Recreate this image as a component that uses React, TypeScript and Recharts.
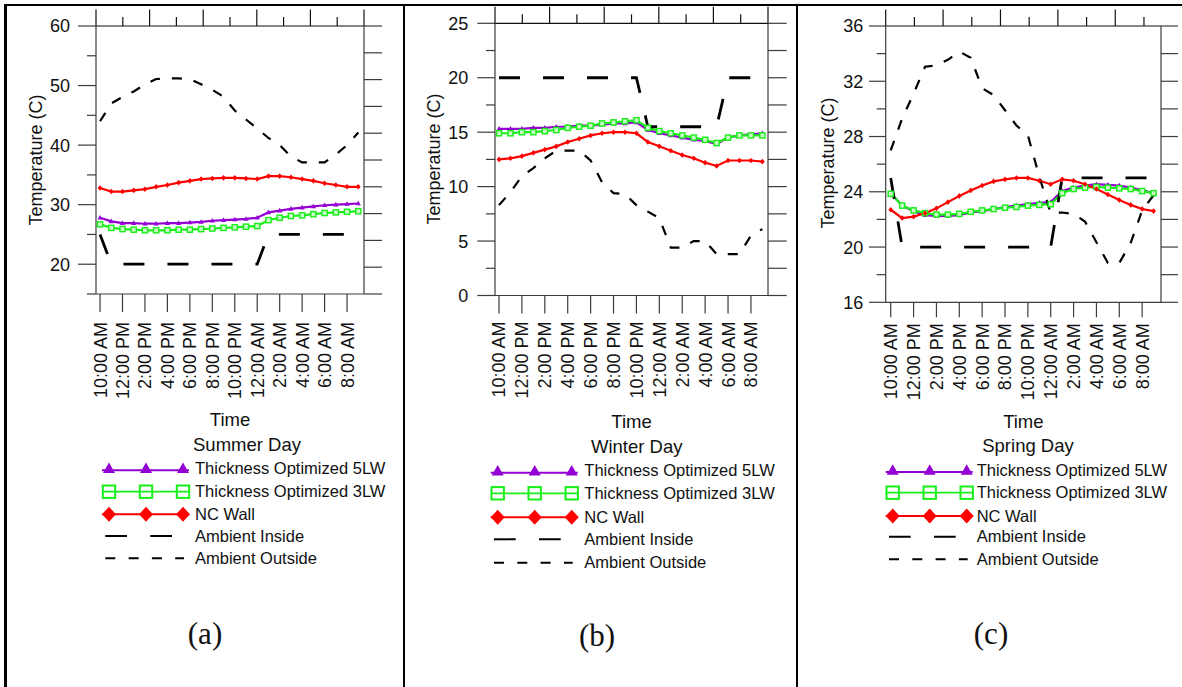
import React from 'react';
import { LineChart, Line, XAxis, YAxis, Legend } from 'recharts';

const FONT = '"Liberation Sans", Arial, sans-serif';
const SERIF = '"Liberation Serif", "Times New Roman", serif';
const AXIS = '#3c3c3c';
const PURPLE = '#9400d3';
const GREEN = '#18ee18';
const RED = '#ff0000';

// hourly samples, 10:00 AM .. 9:00 AM
const hours = [0, 1, 2, 3, 4, 5, 6, 7, 8, 9, 10, 11, 12, 13, 14, 15, 16, 17, 18, 19, 20, 21, 22, 23];
const timeTicks = [0, 2, 4, 6, 8, 10, 12, 14, 16, 18, 20, 22];
const timeLabels = [
  '10:00 AM', '12:00 PM', '2:00 PM', '4:00 PM', '6:00 PM', '8:00 PM',
  '10:00 PM', '12:00 AM', '2:00 AM', '4:00 AM', '6:00 AM', '8:00 AM',
];
const seriesNames = [
  'Thickness Optimized 5LW',
  'Thickness Optimized 3LW',
  'NC Wall',
  'Ambient Inside',
  'Ambient Outside',
];

// Summer day
const summer5LW = [27.8, 27.2, 26.9, 26.9, 26.8, 26.8, 26.9, 26.9, 27.0, 27.1, 27.3, 27.4, 27.5, 27.6, 27.8, 28.7, 29.0, 29.3, 29.5, 29.7, 29.9, 30.0, 30.1, 30.2];
const summer3LW = [26.7, 26.1, 25.9, 25.8, 25.7, 25.7, 25.7, 25.8, 25.8, 25.9, 26.0, 26.1, 26.2, 26.3, 26.4, 27.4, 27.8, 28.1, 28.2, 28.4, 28.6, 28.7, 28.8, 28.9];
const summerNC = [32.8, 32.2, 32.2, 32.4, 32.6, 33.0, 33.3, 33.7, 34.0, 34.3, 34.4, 34.5, 34.5, 34.4, 34.3, 34.8, 34.8, 34.6, 34.3, 34.0, 33.6, 33.3, 33.0, 33.0];
const summerInside = [25, 20, 20, 20, 20, 20, 20, 20, 20, 20, 20, 20, 20, 20, 20, 25, 25, 25, 25, 25, 25, 25, 25, 25];
const summerOutside = [44.0, 47.0, 48.1, 49.0, 50.2, 51.1, 51.2, 51.2, 51.1, 50.2, 49.3, 48.1, 45.8, 44.3, 42.8, 41.2, 40.0, 38.1, 37.1, 37.1, 37.1, 38.4, 40.0, 42.1];

// Winter day
const winter5LW = [15.3, 15.3, 15.3, 15.4, 15.4, 15.5, 15.5, 15.6, 15.6, 15.7, 15.8, 15.8, 15.9, 15.2, 14.9, 14.7, 14.5, 14.3, 14.2, 13.9, 14.5, 14.7, 14.8, 14.9];
const winter3LW = [14.9, 14.9, 15.0, 15.0, 15.1, 15.2, 15.4, 15.5, 15.6, 15.8, 15.9, 16.0, 16.1, 15.4, 15.1, 14.9, 14.7, 14.5, 14.3, 14.0, 14.5, 14.7, 14.7, 14.7];
const winterNC = [12.5, 12.6, 12.8, 13.1, 13.4, 13.7, 14.1, 14.4, 14.7, 14.9, 15.0, 15.0, 14.9, 14.1, 13.7, 13.3, 12.9, 12.6, 12.2, 11.9, 12.4, 12.4, 12.4, 12.3];
const winterInside = [20, 20, 20, 20, 20, 20, 20, 20, 20, 20, 20, 20, 20, 15.5, 15.5, 15.5, 15.5, 15.5, 15.5, 15.5, 20, 20, 20, 20];
const winterOutside = [8.3, 9.5, 10.95, 11.7, 12.6, 13.3, 13.3, 13.3, 12.4, 10.4, 9.4, 9.3, 8.3, 7.7, 7.1, 4.4, 4.4, 5.0, 5.0, 3.8, 3.8, 3.8, 5.5, 6.1];

// Spring day
const spring5LW = [23.9, 23.0, 22.6, 22.3, 22.25, 22.25, 22.3, 22.5, 22.6, 22.75, 22.9, 23.0, 23.1, 23.2, 23.25, 24.05, 24.3, 24.45, 24.55, 24.5, 24.45, 24.3, 24.1, 23.9];
const spring3LW = [23.85, 23.0, 22.65, 22.45, 22.35, 22.35, 22.4, 22.55, 22.65, 22.75, 22.85, 22.9, 23.0, 23.05, 23.1, 23.9, 24.2, 24.3, 24.35, 24.3, 24.25, 24.2, 24.05, 23.9];
const springNC = [22.7, 22.1, 22.2, 22.45, 22.8, 23.25, 23.7, 24.1, 24.45, 24.75, 24.9, 25.0, 25.0, 24.8, 24.55, 24.9, 24.8, 24.55, 24.2, 23.8, 23.4, 23.05, 22.75, 22.6];
const springInside = [25, 20, 20, 20, 20, 20, 20, 20, 20, 20, 20, 20, 20, 20, 20, 25, 25, 25, 25, 25, 25, 25, 25, 25];
const springOutside = [27.0, 29.3, 31.1, 33.05, 33.15, 33.55, 34.15, 33.7, 31.5, 31.0, 29.9, 28.8, 28.1, 25.1, 22.45, 22.5, 22.4, 21.85, 20.35, 18.85, 18.85, 20.3, 22.65, 23.75];

// axis ticks
const summerTicks = [15, 20, 25, 30, 35, 40, 45, 50, 55, 60];
const summerLabels = [20, 30, 40, 50, 60];
const winterTicks = [0, 2.5, 5, 7.5, 10, 12.5, 15, 17.5, 20, 22.5, 25];
const winterLabels = [0, 5, 10, 15, 20, 25];
const springTicks = [16, 18, 20, 22, 24, 26, 28, 30, 32, 34, 36];
const springLabels = [16, 20, 24, 28, 32, 36];
const frameTicks = [0, 1, 2, 3, 4, 5, 6, 7, 8, 9, 10];

// evenly spaced frame ticks along the top edge, in hour units
const topFrame = (domain: [number, number], step: number, count: number) =>
  frameTicks.slice(0, count).map((k) => domain[0] + k * step);

type Row = { h: number; t5: number; t3: number; nc: number; inside: number; outside: number };

const buildRows = (t5: number[], t3: number[], nc: number[], inside: number[], outside: number[]): Row[] =>
  hours.map((h, i) => ({ h, t5: t5[i], t3: t3[i], nc: nc[i], inside: inside[i], outside: outside[i] }));

type Spec = {
  id: string;
  left: number;
  width: number;
  plot: { l: number; r: number; t: number; b: number };
  yDomain: [number, number];
  yTicks: number[];
  yLabels: number[];
  yMajorLen: number;
  yLabelGap: number;
  xDomain: [number, number];
  topTicks: number[];
  bottomLen: number;
  bottomGap: number;
  rightLen: number;
  yTitle: [number, number];
  timeBaseline: number;
  rows: Row[];
  legend: { x0: number; textX: number; rowsY: number[]; title: string; titleX: number; titleY: number };
  caption: { text: string; x: number; y: number };
};

const H = 687;

const summerX: [number, number] = [-0.36, 23.51];
const winterX: [number, number] = [-0.35, 23.49];
const springX: [number, number] = [-0.44, 23.65];

const panels: Spec[] = [
  {
    id: 'summer', left: 0, width: 400,
    plot: { l: 96, r: 364, t: 26, b: 294 },
    yDomain: [15, 60], yTicks: summerTicks, yLabels: summerLabels, yMajorLen: 18, yLabelGap: 26,
    xDomain: summerX, topTicks: topFrame(summerX, (summerX[1] - summerX[0]) / 10, 11),
    bottomLen: 18, bottomGap: 28, rightLen: 18,
    yTitle: [35.5, 160], timeBaseline: 426,
    rows: buildRows(summer5LW, summer3LW, summerNC, summerInside, summerOutside),
    legend: { x0: 102, textX: 195, rowsY: [468.3, 491.7, 514.3, 536, 558.3], title: 'Summer Day', titleX: 247, titleY: 450.7 },
    caption: { text: '(a)', x: 205, y: 644 },
  },
  {
    id: 'winter', left: 400, width: 397,
    plot: { l: 95, r: 368, t: 23.3, b: 295.5 },
    yDomain: [0, 25], yTicks: winterTicks, yLabels: winterLabels, yMajorLen: 17.7, yLabelGap: 26.7,
    xDomain: winterX, topTicks: topFrame(winterX, (winterX[1] - winterX[0]) / 10, 11),
    bottomLen: 18, bottomGap: 26, rightLen: 18.7,
    yTitle: [34, 159], timeBaseline: 428.3,
    rows: buildRows(winter5LW, winter3LW, winterNC, winterInside, winterOutside),
    legend: { x0: 90.7, textX: 184.3, rowsY: [470.7, 493.3, 517.3, 539.3, 562.7], title: 'Winter Day', titleX: 236.7, titleY: 452.7 },
    caption: { text: '(b)', x: 197, y: 646 },
  },
  {
    id: 'spring', left: 797, width: 385,
    plot: { l: 88.7, r: 364, t: 26, b: 302.3 },
    yDomain: [16, 36], yTicks: springTicks, yLabels: springLabels, yMajorLen: 16.7, yLabelGap: 22.4,
    xDomain: springX, topTicks: topFrame(springX, 2.511, 10),
    bottomLen: 15, bottomGap: 21, rightLen: 17,
    yTitle: [30.5, 163], timeBaseline: 427.7,
    rows: buildRows(spring5LW, spring3LW, springNC, springInside, springOutside),
    legend: { x0: 88.7, textX: 179.7, rowsY: [470, 492.7, 516, 536.7, 559.3], title: 'Spring Day', titleX: 231, titleY: 451.7 },
    caption: { text: '(c)', x: 194, y: 644 },
  },
];

// point markers
const TriangleDot = (p: any) => {
  const { cx, cy, index } = p;
  if (cx == null || cy == null) return <g key={`t-${index}`} />;
  return <path key={`t-${index}`} d={`M${cx},${cy - 2.8}L${cx + 2.6},${cy + 1.8}L${cx - 2.6},${cy + 1.8}Z`} fill={PURPLE} />;
};
const SquareDot = (p: any) => {
  const { cx, cy, index } = p;
  if (cx == null || cy == null) return <g key={`s-${index}`} />;
  return <rect key={`s-${index}`} x={cx - 2.6} y={cy - 2.6} width={5.2} height={5.2} fill="#c8f8c8" stroke={GREEN} strokeWidth={1.4} />;
};
const DiamondDot = (p: any) => {
  const { cx, cy, index } = p;
  if (cx == null || cy == null) return <g key={`d-${index}`} />;
  return <path key={`d-${index}`} d={`M${cx},${cy - 2.8}L${cx + 2.4},${cy}L${cx},${cy + 2.8}L${cx - 2.4},${cy}Z`} fill={RED} />;
};

const LeftTick = (props: any) => {
  const { x, y, payload, spec } = props;
  const v = payload.value;
  const major = spec.yLabels.includes(v);
  const len = major ? spec.yMajorLen : 9;
  return (
    <g>
      <line x1={x - len} x2={x} y1={y} y2={y} stroke={AXIS} strokeWidth={1.2} />
      {major && (
        <text x={x - spec.yLabelGap} y={y} dy="0.36em" textAnchor="end" fontSize={18} fill="#111">
          {v}
        </text>
      )}
    </g>
  );
};

const RightTick = (props: any) => {
  const { x, y, spec } = props;
  return <line x1={x} x2={x + spec.rightLen} y1={y} y2={y} stroke={AXIS} strokeWidth={1.2} />;
};

const TopTick = (props: any) => {
  const { x, y, index } = props;
  const len = index % 2 === 0 ? 16.5 : 9;
  return <line x1={x} x2={x} y1={y - len} y2={y} stroke="#111" strokeWidth={1.2} />;
};

const BottomTick = (props: any) => {
  const { x, y, payload, spec } = props;
  const label = timeLabels[timeTicks.indexOf(payload.value)];
  const ty = y + spec.bottomGap;
  return (
    <g>
      <line x1={x} x2={x} y1={y} y2={y + spec.bottomLen} stroke={AXIS} strokeWidth={1.2} />
      <text x={x} y={ty} dy="0.36em" textAnchor="end" fontSize={18} fill="#111" transform={`rotate(-90 ${x} ${ty})`}>
        {label}
      </text>
    </g>
  );
};

const LegendSymbol = ({ kind, x0, y }: { kind: number; x0: number; y: number }) => {
  const marks = [x0 + 7, x0 + 44, x0 + 81];
  if (kind === 0) {
    return (
      <g>
        <line x1={x0} x2={x0 + 87} y1={y + 2} y2={y + 2} stroke={PURPLE} strokeWidth={2} />
        {marks.map((m) => (
          <path key={m} d={`M${m},${y - 5.8}L${m + 6},${y + 4.8}L${m - 6},${y + 4.8}Z`} fill={PURPLE} />
        ))}
      </g>
    );
  }
  if (kind === 1) {
    return (
      <g>
        <line x1={x0} x2={x0 + 87} y1={y} y2={y} stroke={GREEN} strokeWidth={1.8} />
        {marks.map((m) => (
          <rect key={m} x={m - 6.2} y={y - 6.2} width={12.4} height={12.4} fill="none" stroke={GREEN} strokeWidth={2} />
        ))}
      </g>
    );
  }
  if (kind === 2) {
    return (
      <g>
        <line x1={x0} x2={x0 + 87} y1={y} y2={y} stroke={RED} strokeWidth={2} />
        {marks.map((m) => (
          <path key={m} d={`M${m},${y - 7.5}L${m + 7},${y}L${m},${y + 7.5}L${m - 7},${y}Z`} fill={RED} />
        ))}
      </g>
    );
  }
  if (kind === 3) {
    return <line x1={x0 + 3.3} x2={x0 + 70} y1={y} y2={y} stroke="#000" strokeWidth={2} strokeDasharray="21.7 23.3" />;
  }
  return <line x1={x0 + 3.3} x2={x0 + 82} y1={y} y2={y} stroke="#000" strokeWidth={2} strokeDasharray="10 13.3" />;
};

const LegendBlock = ({ spec }: { spec: Spec }) => {
  const lg = spec.legend;
  return (
    <svg width={spec.width} height={H} style={{ display: 'block', overflow: 'visible', fontFamily: FONT }}>
      <text x={lg.titleX} y={lg.titleY} textAnchor="middle" fontSize={18.5} fill="#111">
        {lg.title}
      </text>
      {seriesNames.map((name, i) => (
        <g key={name}>
          <LegendSymbol kind={i} x0={lg.x0} y={lg.rowsY[i]} />
          <text x={lg.textX} y={lg.rowsY[i]} dy="0.35em" fontSize={16.5} fill="#111">
            {name}
          </text>
        </g>
      ))}
      <text x={spec.caption.x} y={spec.caption.y} textAnchor="middle" fontSize={31} fill="#111" style={{ fontFamily: SERIF }}>
        {spec.caption.text}
      </text>
    </svg>
  );
};

const Panel = ({ spec }: { spec: Spec }) => {
  const { plot } = spec;
  const margin = {
    top: plot.t - 20,
    left: plot.l - 60,
    right: spec.width - plot.r - 20,
    bottom: H - plot.b - 200,
  };
  const timeX = (plot.l + plot.r) / 2;
  return (
    <div style={{ position: 'absolute', left: spec.left, top: 0, width: spec.width, height: H }}>
      <LineChart width={spec.width} height={H} data={spec.rows} margin={margin} style={{ fontFamily: FONT }}>
        <XAxis
          xAxisId="bottom"
          dataKey="h"
          type="number"
          domain={spec.xDomain}
          ticks={timeTicks}
          allowDataOverflow
          interval={0}
          height={200}
          tickSize={0}
          tickMargin={0}
          tickLine={false}
          axisLine={{ stroke: AXIS, strokeWidth: 1.2 }}
          tick={(p: any) => <BottomTick {...p} spec={spec} />}
          label={() => (
            <text x={timeX} y={spec.timeBaseline} textAnchor="middle" fontSize={18.5} fill="#111">
              Time
            </text>
          )}
        />
        <XAxis
          xAxisId="top"
          orientation="top"
          dataKey="h"
          type="number"
          domain={spec.xDomain}
          ticks={spec.topTicks}
          allowDataOverflow
          interval={0}
          height={20}
          tickSize={0}
          tickMargin={0}
          tickLine={false}
          axisLine={{ stroke: '#111', strokeWidth: 1.2 }}
          tick={(p: any) => <TopTick {...p} />}
        />
        <YAxis
          yAxisId="left"
          type="number"
          domain={spec.yDomain}
          ticks={spec.yTicks}
          allowDataOverflow
          interval={0}
          width={60}
          tickSize={0}
          tickMargin={0}
          tickLine={false}
          axisLine={{ stroke: AXIS, strokeWidth: 1.2 }}
          tick={(p: any) => <LeftTick {...p} spec={spec} />}
          label={() => (
            <text
              x={spec.yTitle[0]}
              y={spec.yTitle[1]}
              dy="0.35em"
              textAnchor="middle"
              fontSize={18}
              fill="#111"
              transform={`rotate(-90 ${spec.yTitle[0]} ${spec.yTitle[1]})`}
            >
              Temperature (C)
            </text>
          )}
        />
        <YAxis
          yAxisId="right"
          orientation="right"
          type="number"
          domain={[0, 10]}
          ticks={frameTicks}
          allowDataOverflow
          interval={0}
          width={20}
          tickSize={0}
          tickMargin={0}
          tickLine={false}
          axisLine={{ stroke: AXIS, strokeWidth: 1.2 }}
          tick={(p: any) => <RightTick {...p} spec={spec} />}
        />
        <Legend
          layout="horizontal"
          verticalAlign="middle"
          align="center"
          wrapperStyle={{ left: 0, top: 0, width: spec.width, height: H, pointerEvents: 'none' }}
          content={() => <LegendBlock spec={spec} />}
        />
        <Line xAxisId="bottom" yAxisId="left" type="linear" dataKey="t5" name={seriesNames[0]} stroke={PURPLE} strokeWidth={2.2} dot={TriangleDot} isAnimationActive={false} />
        <Line xAxisId="bottom" yAxisId="left" type="linear" dataKey="t3" name={seriesNames[1]} stroke={GREEN} strokeWidth={2.2} dot={SquareDot} isAnimationActive={false} />
        <Line xAxisId="bottom" yAxisId="left" type="linear" dataKey="nc" name={seriesNames[2]} stroke={RED} strokeWidth={2.2} dot={DiamondDot} isAnimationActive={false} />
        <Line xAxisId="bottom" yAxisId="left" type="linear" dataKey="inside" name={seriesNames[3]} stroke="#000" strokeWidth={2.8} strokeDasharray="21 23" dot={false} isAnimationActive={false} />
        <Line xAxisId="bottom" yAxisId="left" type="linear" dataKey="outside" name={seriesNames[4]} stroke="#000" strokeWidth={2.2} strokeDasharray="10 12" dot={false} isAnimationActive={false} />
      </LineChart>
    </div>
  );
};

export default function App() {
  return (
    <div style={{ position: 'absolute', left: 0, top: 0, width: 1182, height: H, background: '#fff', overflow: 'hidden' }}>
      {panels.map((p) => (
        <Panel key={p.id} spec={p} />
      ))}
      {/* outer frame and panel dividers */}
      <div style={{ position: 'absolute', left: 4, top: 4, width: 1178, height: 2.4, background: '#000' }} />
      <div style={{ position: 'absolute', left: 4, top: 4, width: 2.6, height: H, background: '#000' }} />
      <div style={{ position: 'absolute', left: 402.6, top: 4, width: 2.2, height: H, background: '#000' }} />
      <div style={{ position: 'absolute', left: 795.8, top: 4, width: 2.2, height: H, background: '#000' }} />
    </div>
  );
}
